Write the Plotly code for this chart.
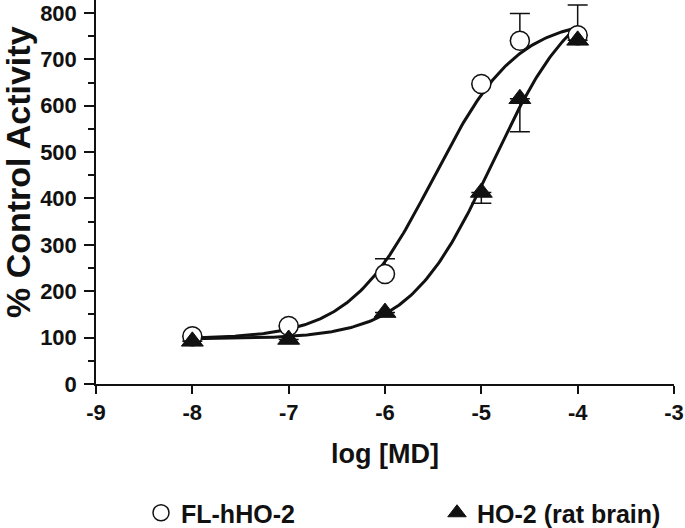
import numpy as np
import plotly.graph_objects as go

# ---- data ----
log_md = [-8, -7, -6, -5, -4.6, -4]
fl_hho2 = [103, 125, 237, 647, 740, 752]
fl_hho2_err_up = [0, 0, 33, 0, 59, 65]
rat_brain = [92, 96, 154, 413, 615, 741]
rat_brain_err_down = [0, 0, 0, 23, 71, 0]

# fitted sigmoid parameters (bottom, top, logEC50, hill)
fit_fl = dict(bottom=97, top=790, logec50=-5.5, hill=1.0)
fit_rat = dict(bottom=97, top=860, logec50=-4.88, hill=1.0)

x_ticks = [-9, -8, -7, -6, -5, -4, -3]
x_tick_text = ["-9", "-8", "-7", "-6", "-5", "-4", "-3"]
y_ticks = [0, 100, 200, 300, 400, 500, 600, 700, 800]
y_title = "% Control Activity"
x_title = "log [MD]"

def sigmoid(x, p):
    return p["bottom"] + (p["top"] - p["bottom"]) / (1 + 10 ** ((p["logec50"] - x) * p["hill"]))

xs = np.linspace(-8, -4, 200)

FONT = "Liberation Sans, Arial, sans-serif"
BLACK = "#111111"
W, H = 685, 528

fig = go.Figure()
fig.add_trace(go.Scatter(x=xs, y=sigmoid(xs, fit_fl), mode="lines",
                         line=dict(color=BLACK, width=3), showlegend=False, hoverinfo="skip"))
fig.add_trace(go.Scatter(x=xs, y=sigmoid(xs, fit_rat), mode="lines",
                         line=dict(color=BLACK, width=3), showlegend=False, hoverinfo="skip"))

fig.add_trace(go.Scatter(
    x=log_md, y=fl_hho2, mode="markers", name="FL-hHO-2",
    marker=dict(symbol="circle", size=19, color="white", line=dict(color=BLACK, width=1.5)),
    error_y=dict(type="data", symmetric=False, array=fl_hho2_err_up,
                 arrayminus=[0] * len(log_md), color=BLACK, thickness=1.5, width=10),
    legend="legend"))
fig.add_trace(go.Scatter(
    x=log_md, y=rat_brain, mode="markers", name="HO-2 (rat brain)",
    marker=dict(symbol="triangle-up", size=19, color=BLACK, line=dict(color=BLACK, width=1)),
    error_y=dict(type="data", symmetric=False, array=[0] * len(log_md),
                 arrayminus=rat_brain_err_down, color=BLACK, thickness=1.5, width=10),
    legend="legend2"))

fig.update_layout(
    width=W, height=H,
    margin=dict(l=96, r=11, t=0, b=144),
    paper_bgcolor="white", plot_bgcolor="white",
    font=dict(family=FONT, color=BLACK, weight="bold"),
    legend=dict(xref="paper", yref="container", x=(141 - 96) / 578, y=1 - 513 / H,
                xanchor="left", yanchor="middle",
                font=dict(size=25, family=FONT, weight="bold"), bgcolor="rgba(0,0,0,0)"),
    legend2=dict(xref="paper", yref="container", x=(437 - 96) / 578, y=1 - 513 / H,
                 xanchor="left", yanchor="middle",
                 font=dict(size=25, family=FONT, weight="bold"), bgcolor="rgba(0,0,0,0)"),
    xaxis=dict(range=[-9, -3], tickvals=x_ticks, ticktext=x_tick_text,
               showline=True, linecolor=BLACK, linewidth=1.5, automargin=False,
               ticks="outside", ticklen=8, tickwidth=1.5, tickcolor=BLACK,
               ticklabeloverflow="allow",
               showgrid=False, zeroline=False,
               tickfont=dict(size=22, family=FONT, weight="bold"),
               title=dict(text=x_title, font=dict(size=27, family=FONT, weight="bold"), standoff=20)),
    yaxis=dict(range=[0, 828], tickvals=y_ticks,
               showline=True, linecolor=BLACK, linewidth=1.5, automargin=False,
               ticks="outside", ticklen=10, tickwidth=1.5, tickcolor=BLACK,
               ticklabelstandoff=3, ticklabeloverflow="allow",
               minor=dict(dtick=50, tick0=0, ticks="outside", ticklen=6, tickwidth=1.5, tickcolor=BLACK, showgrid=False),
               showgrid=False, zeroline=False,
               tickfont=dict(size=22, family=FONT, weight="bold")),
    annotations=[dict(text=y_title, textangle=-90, showarrow=False,
                      xref="paper", yref="paper", x=(18 - 96) / 578, y=(384 - 172) / 384,
                      xanchor="center", yanchor="middle",
                      font=dict(size=34, family=FONT, weight="bold", color=BLACK))],
)

fig.write_html("out.html", config={"displayModeBar": False},
               post_script="document.body.style.margin='0';document.body.style.overflow='hidden';")
